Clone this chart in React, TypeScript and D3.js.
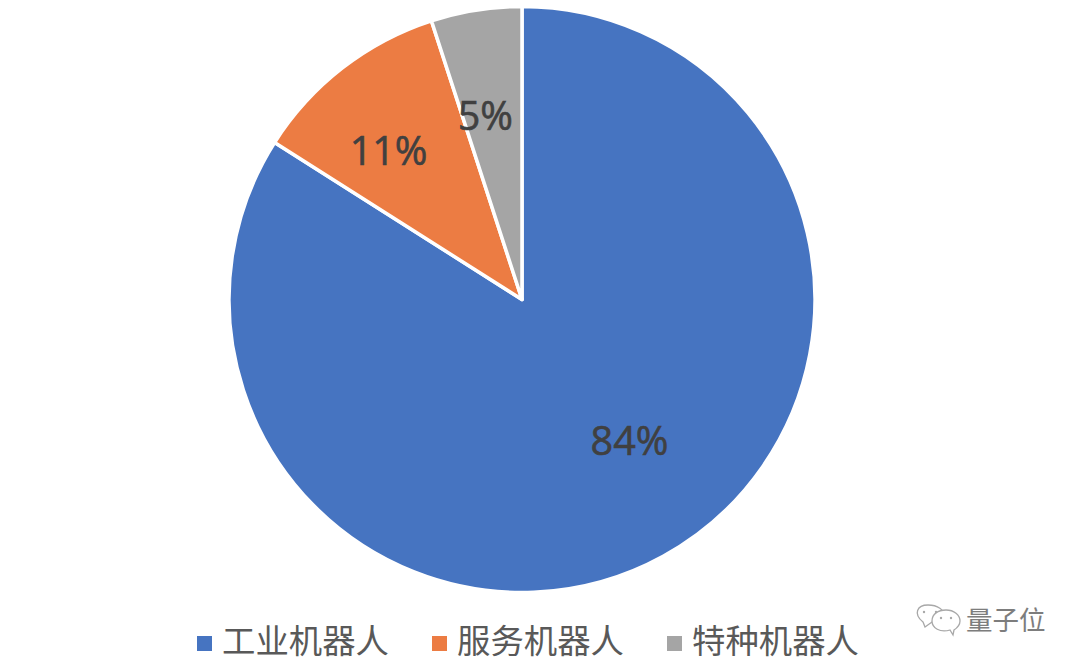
import * as d3 from 'd3';

const categories = ['工业机器人', '服务机器人', '特种机器人'];
const shares = [84, 11, 5];
const colors = ['#4674c1', '#ec7c43', '#a5a5a5'];
// labels in the source were dragged off the slice centres a bit
const labelNudge = [[16, -26], [-17, 1], [-7, 3]];

const width = 1080;
const height = 666;
const cx = 522;
const cy = 299.5;
const radius = 293;

const App = () => {
    const pie = d3.pie<number>().sort(null).value((d) => d);
    const slices = pie(shares);
    const arc = d3.arc<d3.PieArcDatum<number>>().innerRadius(0).outerRadius(radius);
    const labelArc = d3.arc<d3.PieArcDatum<number>>().innerRadius(190).outerRadius(190);

    const legendX = d3.scaleBand<string>().domain(categories).range([197, 902]);

    return (
        <svg
            width={width}
            height={height}
            viewBox={`0 0 ${width} ${height}`}
            style={{ position: 'absolute', left: 0, top: 0, background: '#fff' }}
        >
            <g transform={`translate(${cx},${cy})`}>
                {slices.map((d, i) => (
                    <path key={i} d={arc(d) as string} fill={colors[i]} stroke="#fff" strokeWidth={3.5} strokeLinejoin="round" />
                ))}
                {slices.map((d, i) => {
                    const [x, y] = labelArc.centroid(d);
                    return (
                        <text
                            key={i}
                            x={x + labelNudge[i][0]}
                            y={y + labelNudge[i][1]}
                            textAnchor="middle"
                            dominantBaseline="central"
                            fontFamily="'Open Sans', sans-serif"
                            fontSize={39.5}
                            fontWeight={500}
                            stroke="#404040"
                            strokeWidth={0.6}
                            fill="#404040"
                        >
                            {d.data}%
                        </text>
                    );
                })}
            </g>

            {categories.map((name, i) => (
                <g key={name} transform={`translate(${legendX(name)},0)`}>
                    <rect x={0} y={636} width={15} height={15} fill={colors[i]} />
                    <text
                        x={25}
                        y={638.5}
                        dominantBaseline="central"
                        fontFamily="'Noto Sans CJK SC', sans-serif"
                        fontSize={33.4}
                        fill="#595959"
                    >
                        {name}
                    </text>
                </g>
            ))}

            {/* watermark */}
            <g fill="#fff" stroke="#a8a8a8" strokeWidth={1.3}>
                <path d="M925 627 L923 622 C913 614 917 605 928 605 C938 605 944 610 945 616 L932 622 Z" />
                <path d="M953 635 L950 630 C940 633 932 628 932 621 C932 614 938 610 946 610 C954 610 960 615 960 621 C960 625 957 628 954 630 Z" />
            </g>
            <g fill="#a8a8a8">
                <circle cx={924} cy={612} r={1.2} />
                <circle cx={936} cy={612} r={1.2} />
                <circle cx={941} cy={618} r={1.2} />
                <circle cx={951} cy={618} r={1.2} />
            </g>
            <text
                x={966}
                y={618}
                dominantBaseline="central"
                fontFamily="'Noto Sans CJK SC', sans-serif"
                fontSize={26.5}
                fill="#7d7d7d"
            >
                量子位
            </text>
        </svg>
    );
};

export default App;
